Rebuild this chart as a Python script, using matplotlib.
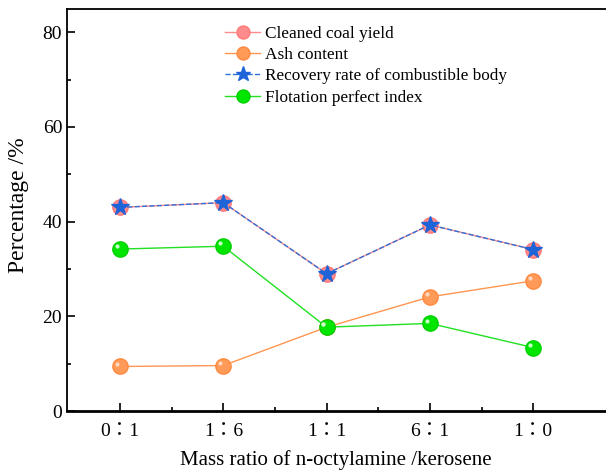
import matplotlib
matplotlib.use("Agg")
import matplotlib.pyplot as plt
import numpy as np

plt.rcParams['font.family'] = ['Liberation Serif', 'Noto Sans CJK TC', 'DejaVu Serif']

# data
ratios = ['0\uff1a1', '1\uff1a6', '1\uff1a1', '6\uff1a1', '1\uff1a0']
coal_yield = [43.0, 44.0, 29.0, 39.3, 34.1]
ash = [9.4, 9.6, 17.7, 24.1, 27.5]
recovery = [43.0, 44.0, 29.0, 39.3, 34.1]
perfect_index = [34.2, 34.8, 17.7, 18.5, 13.4]

x = np.arange(1, len(ratios) + 1)

fig = plt.figure(figsize=(6.06, 4.72), dpi=100)
# axes runs off the right edge like in the reference
ax = fig.add_axes([67/606, (472-411)/472, 1.0, (411-9)/472])

ax.plot(x, coal_yield, '-o', color='#FF8C8C', lw=1, ms=11,
        mec='#FF7A7A', mfc='#FF8C8C', label='Cleaned coal yield', zorder=3)
ax.plot(x, ash, '-o', color='#FF9650', lw=1, ms=11,
        mec='#FF8A40', mfc='#FF9A58', label='Ash content', zorder=3)
ax.plot(x, recovery, '--*', color='#2F6FD8', lw=1, ms=13,
        mec='#1E64D8', mfc='#1E64D8', label='Recovery rate of combustible body', zorder=4)
ax.plot(x, perfect_index, '-o', color='#22E022', lw=1, ms=11,
        mec='#00D000', mfc='#00E600', label='Flotation perfect index', zorder=3)

# little highlight on the ball markers
for ys, c in [(ash, '#FFD8C0'), (perfect_index, '#C8FFC8')]:
    ax.plot(x - 0.03, np.array(ys) + 0.6, 'o', ms=3, color=c, mec='none', zorder=5)

ax.set_xlim(0.487, 0.487 + 606 / 103.3)
ax.set_ylim(0, 84.9)
ax.set_xticks(x)
ax.set_xticklabels(ratios)
ax.set_xticks(x[:-1] + 0.5, minor=True)
ax.set_yticks([0, 20, 40, 60, 80])
ax.set_yticks([10, 30, 50, 70], minor=True)
ax.tick_params(which='both', direction='in', labelsize=14, width=1.2)
ax.tick_params(which='major', length=6)
ax.tick_params(which='minor', length=3)
ax.tick_params(axis='x', pad=9)
for s in ax.spines.values():
    s.set_linewidth(1.3)
ax.spines['bottom'].set_linewidth(2)

ax.set_xlabel('Mass ratio of n-octylamine /kerosene', fontsize=15, va='center')
ax.xaxis.set_label_coords((336 - 67) / 606, (411 - 460) / 402)
ax.set_ylabel('Percentage /%', fontsize=17, va='center')
ax.yaxis.set_label_coords((19 - 67) / 606, (411 - 205) / 402)

ax.legend(loc='upper left', bbox_to_anchor=(0.25, 0.975), frameon=False,
          fontsize=12.4, handlelength=2.0, handletextpad=0.3, labelspacing=0.3,
          borderaxespad=0, markerscale=0.85)

fig.savefig('out.png', dpi=100)
